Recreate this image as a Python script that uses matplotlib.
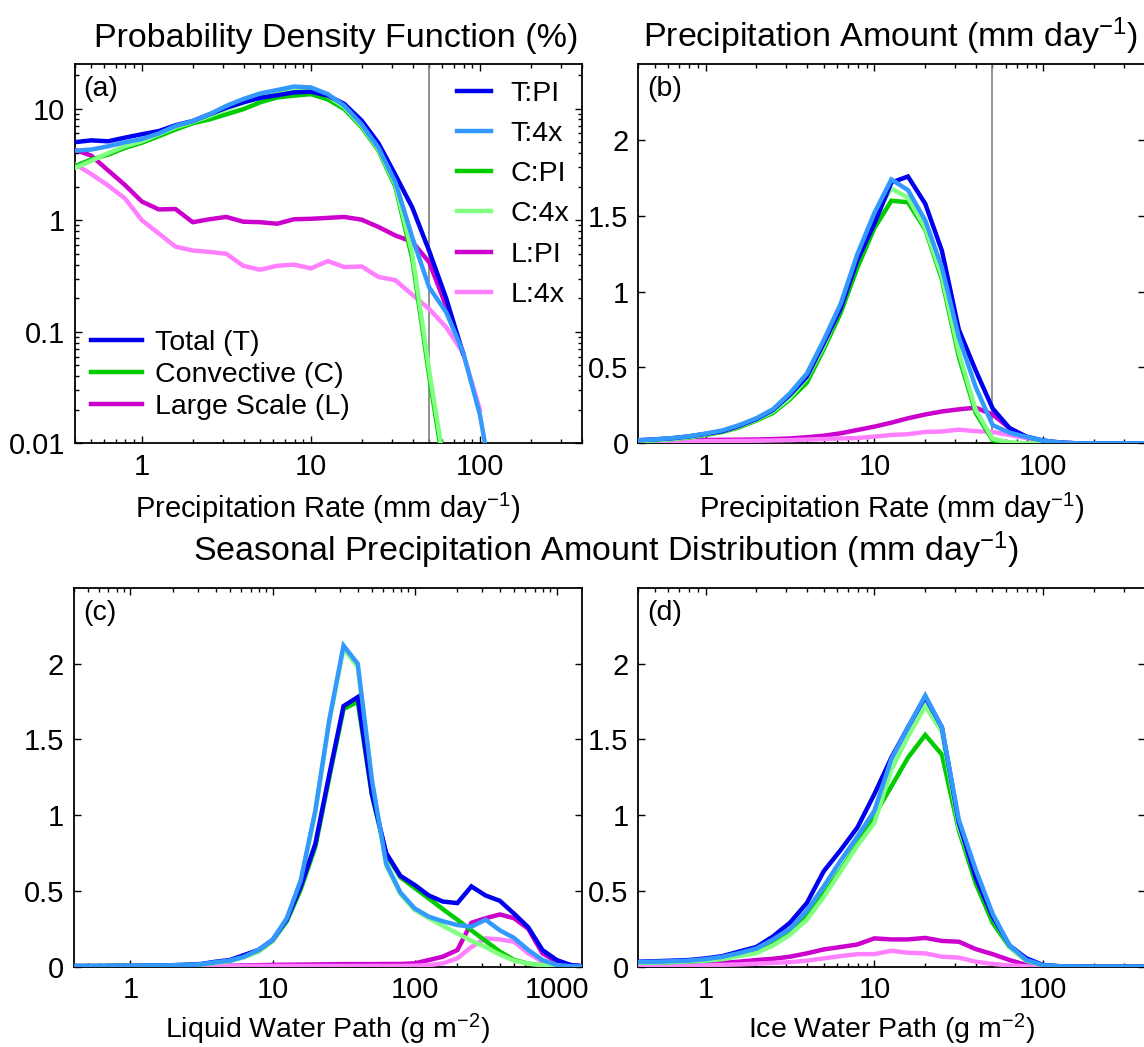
import numpy as np
import matplotlib
matplotlib.use("Agg")
import matplotlib.pyplot as plt
from matplotlib.lines import Line2D
from matplotlib.ticker import NullFormatter

plt.rcParams['font.family'] = ['Liberation Sans', 'DejaVu Sans']
plt.rcParams['mathtext.fontset'] = 'custom'
plt.rcParams['mathtext.rm'] = 'Liberation Sans'
plt.rcParams['mathtext.it'] = 'Liberation Sans:italic'
plt.rcParams['mathtext.bf'] = 'Liberation Sans:bold'

nan = np.nan

# ---------------- bin centres ----------------
rate = [0.398, 0.501, 0.631, 0.794, 1.0, 1.26, 1.58, 2.0, 2.51, 3.16, 3.98, 5.01,
        6.31, 7.94, 10.0, 12.6, 15.8, 20.0, 25.1, 31.6, 39.8, 50.1, 63.1, 79.4,
        100.0, 126.0, 158.0, 200.0, 251.0, 316.0, 398.0]
lwp = rate + [501.0, 631.0, 794.0, 1000.0, 1259.0, 1585.0]
iwp = rate

# ---------------- (a) PDF of precipitation rate (%) ----------------
pdf_T_PI = [5.0, 5.2, 5.1, 5.5, 5.9, 6.3, 7.1, 7.75, 8.9, 10.2, 11.4, 12.5, 13.2, 14.0,
            14.2, 13.1, 11.0, 7.8, 4.9, 2.55, 1.3, 0.53, 0.2, 0.064, nan, nan,
            nan, nan, nan, nan, nan]
pdf_T_4x = [4.2, 4.3, 4.6, 5.0, 5.35, 6.0, 7.0, 7.75, 8.9, 10.6, 12.2, 13.7, 14.7, 15.8,
            15.5, 13.5, 10.6, 7.2, 4.46, 2.2, 0.7, 0.25, 0.15, 0.066, 0.018, 0.0025,
            nan, nan, nan, nan, nan]
pdf_C_PI = [3.04, 3.5, 3.87, 4.45, 4.95, 5.67, 6.5, 7.4, 8.0, 8.9, 9.9, 11.4, 12.6, 13.1,
            13.5, 12.1, 9.9, 6.8, 4.2, 2.0, 0.45, 0.04, 0.0044, nan, nan, nan,
            nan, nan, nan, nan, nan]
pdf_C_4x = [2.93, 3.4, 4.0, 4.6, 5.1, 5.9, 6.8, 7.6, 8.6, 9.9, 11.3, 12.9, 14.0, 15.0,
            15.0, 13.0, 10.3, 7.0, 4.3, 2.1, 0.5, 0.045, 0.005, nan, nan, nan,
            nan, nan, nan, nan, nan]
pdf_L_PI = [4.3, 3.8, 2.8, 2.07, 1.47, 1.25, 1.26, 0.96, 1.02, 1.07, 0.97, 0.96, 0.93,
            1.02, 1.03, 1.05, 1.07, 1.01, 0.87, 0.73, 0.64, 0.42, 0.17, 0.065, nan, nan,
            nan, nan, nan, nan, nan]
pdf_L_4x = [3.2, 2.6, 2.05, 1.57, 1.0, 0.76, 0.58, 0.535, 0.52, 0.50, 0.39, 0.36, 0.39,
            0.40, 0.37, 0.43, 0.38, 0.385, 0.31, 0.29, 0.215, 0.16, 0.11, 0.065, 0.02, nan,
            nan, nan, nan, nan, nan]

# ---------------- (b) precipitation amount by rate ----------------
amt_T_PI = [0.02, 0.026, 0.033, 0.045, 0.062, 0.08, 0.115, 0.16, 0.22, 0.32, 0.44, 0.66,
            0.89, 1.21, 1.45, 1.72, 1.76, 1.58, 1.27, 0.75, 0.48, 0.23, 0.10, 0.044,
            0.018, 0.005, 0.0, 0.0, 0.0, 0.0, 0.0]
amt_T_4x = [0.02, 0.026, 0.034, 0.046, 0.064, 0.085, 0.12, 0.165, 0.225, 0.33, 0.46, 0.68,
            0.92, 1.25, 1.52, 1.74, 1.67, 1.47, 1.16, 0.70, 0.37, 0.12, 0.07, 0.042,
            0.018, 0.005, 0.0, 0.0, 0.0, 0.0, 0.0]
amt_C_PI = [0.015, 0.02, 0.028, 0.038, 0.055, 0.075, 0.105, 0.15, 0.2, 0.29, 0.40, 0.62,
            0.86, 1.16, 1.42, 1.60, 1.59, 1.41, 1.08, 0.57, 0.20, 0.02, 0.003, 0.0,
            0.0, 0.0, 0.0, 0.0, 0.0, 0.0, 0.0]
amt_C_4x = [0.015, 0.02, 0.028, 0.04, 0.058, 0.08, 0.11, 0.155, 0.21, 0.30, 0.43, 0.64,
            0.90, 1.22, 1.50, 1.68, 1.62, 1.42, 1.10, 0.60, 0.22, 0.03, 0.003, 0.0,
            0.0, 0.0, 0.0, 0.0, 0.0, 0.0, 0.0]
amt_L_PI = [0.018, 0.019, 0.02, 0.021, 0.022, 0.023, 0.024, 0.025, 0.028, 0.032, 0.04,
            0.05, 0.066, 0.088, 0.11, 0.136, 0.165, 0.19, 0.21, 0.224, 0.235, 0.19, 0.1,
            0.04, 0.012, 0.003, 0.0, 0.0, 0.0, 0.0, 0.0]
amt_L_4x = [0.013, 0.013, 0.013, 0.014, 0.015, 0.015, 0.016, 0.017, 0.019, 0.021, 0.025,
            0.028, 0.032, 0.035, 0.044, 0.055, 0.06, 0.075, 0.078, 0.09, 0.08, 0.075,
            0.055, 0.035, 0.017, 0.004, 0.0, 0.0, 0.0, 0.0, 0.0]

# ---------------- (c) seasonal amount by liquid water path ----------------
lwp_T_PI = [0.005, 0.005, 0.005, 0.006, 0.006, 0.007, 0.008, 0.01, 0.013, 0.018, 0.033,
            0.044, 0.077, 0.11, 0.176, 0.31, 0.53, 0.81, 1.27, 1.72, 1.78, 1.14, 0.75,
            0.60, 0.54, 0.47, 0.43, 0.42, 0.53, 0.47, 0.435, 0.35, 0.26, 0.11, 0.044,
            0.011, 0.002]
lwp_T_4x = [0.004, 0.004, 0.005, 0.005, 0.006, 0.007, 0.008, 0.01, 0.012, 0.017, 0.03,
            0.04, 0.066, 0.11, 0.176, 0.32, 0.57, 1.03, 1.63, 2.12, 2.0, 1.23, 0.68,
            0.49, 0.385, 0.33, 0.30, 0.275, 0.264, 0.31, 0.24, 0.19, 0.11, 0.044, 0.011,
            0.003, 0.001]
lwp_C_PI = [0.004, 0.004, 0.004, 0.005, 0.005, 0.006, 0.007, 0.008, 0.011, 0.015, 0.028,
            0.038, 0.07, 0.10, 0.17, 0.30, 0.51, 0.79, 1.25, 1.70, 1.75, 1.13, 0.74,
            0.59, 0.52, 0.45, 0.38, 0.31, 0.24, 0.17, 0.10, 0.045, 0.02, 0.01, 0.004,
            0.001, 0.0]
lwp_C_4x = [0.004, 0.004, 0.004, 0.005, 0.005, 0.006, 0.007, 0.008, 0.011, 0.015, 0.027,
            0.037, 0.062, 0.10, 0.17, 0.31, 0.56, 1.02, 1.62, 2.10, 1.98, 1.22, 0.67,
            0.48, 0.375, 0.32, 0.27, 0.22, 0.17, 0.13, 0.08, 0.04, 0.02, 0.01, 0.004,
            0.001, 0.0]
lwp_L_PI = [0.001, 0.001, 0.001, 0.001, 0.002, 0.002, 0.002, 0.003, 0.003, 0.004, 0.005,
            0.006, 0.008, 0.01, 0.012, 0.013, 0.014, 0.015, 0.016, 0.017, 0.017, 0.017,
            0.018, 0.018, 0.022, 0.044, 0.066, 0.11, 0.29, 0.32, 0.345, 0.32, 0.25, 0.088,
            0.033, 0.01, 0.002]
lwp_L_4x = [0.001, 0.001, 0.001, 0.001, 0.001, 0.001, 0.002, 0.002, 0.002, 0.003, 0.003,
            0.004, 0.004, 0.005, 0.005, 0.005, 0.005, 0.005, 0.005, 0.005, 0.005, 0.005,
            0.005, 0.005, 0.006, 0.01, 0.022, 0.055, 0.13, 0.187, 0.18, 0.165, 0.088,
            0.033, 0.01, 0.002, 0.0]

# ---------------- (d) seasonal amount by ice water path ----------------
iwp_T_PI = [0.033, 0.036, 0.04, 0.044, 0.055, 0.07, 0.1, 0.13, 0.2, 0.29, 0.42, 0.63,
            0.77, 0.92, 1.14, 1.38, 1.58, 1.78, 1.58, 0.95, 0.59, 0.33, 0.14, 0.055,
            0.011, 0.003, 0.001, 0.0, 0.0, 0.0, 0.0]
iwp_T_4x = [0.03, 0.033, 0.036, 0.04, 0.05, 0.065, 0.09, 0.12, 0.18, 0.25, 0.37, 0.53,
            0.70, 0.86, 1.03, 1.37, 1.58, 1.79, 1.58, 0.97, 0.64, 0.35, 0.14, 0.044,
            0.01, 0.003, 0.001, 0.0, 0.0, 0.0, 0.0]
iwp_C_PI = [0.025, 0.028, 0.03, 0.035, 0.04, 0.055, 0.075, 0.1, 0.15, 0.22, 0.33, 0.48,
            0.64, 0.81, 1.0, 1.19, 1.38, 1.53, 1.40, 0.90, 0.55, 0.29, 0.13, 0.04,
            0.01, 0.002, 0.0, 0.0, 0.0, 0.0, 0.0]
iwp_C_4x = [0.025, 0.028, 0.03, 0.035, 0.04, 0.05, 0.07, 0.09, 0.14, 0.21, 0.31, 0.46,
            0.63, 0.80, 0.95, 1.30, 1.52, 1.72, 1.55, 0.92, 0.60, 0.33, 0.13, 0.04,
            0.01, 0.002, 0.0, 0.0, 0.0, 0.0, 0.0]
iwp_L_PI = [0.01, 0.012, 0.014, 0.017, 0.02, 0.025, 0.033, 0.044, 0.052, 0.066, 0.088,
            0.114, 0.13, 0.147, 0.187, 0.18, 0.18, 0.19, 0.17, 0.165, 0.116, 0.083,
            0.044, 0.011, 0.002, 0.0, 0.0, 0.0, 0.0, 0.0, 0.0]
iwp_L_4x = [0.005, 0.006, 0.007, 0.008, 0.01, 0.012, 0.015, 0.02, 0.025, 0.03, 0.04,
            0.055, 0.07, 0.083, 0.083, 0.105, 0.092, 0.088, 0.066, 0.06, 0.033, 0.018,
            0.008, 0.002, 0.0, 0.0, 0.0, 0.0, 0.0, 0.0, 0.0]

series_names = ['T:PI', 'T:4x', 'C:PI', 'C:4x', 'L:PI', 'L:4x']
colors = {'T:PI': '#0000EE', 'T:4x': '#3399FF', 'C:PI': '#00CC00',
          'C:4x': '#80FF80', 'L:PI': '#CC00CC', 'L:4x': '#FF80FF'}
draw_order = ['L:PI', 'L:4x', 'C:PI', 'C:4x', 'T:PI', 'T:4x']
threshold = 50.0

W, H = 1144, 1047
fig = plt.figure(figsize=(W / 100, H / 100), dpi=100)

def px_axes(left, top, right, bottom):
    return fig.add_axes([left / W, (H - bottom) / H, (right - left) / W, (bottom - top) / H])

ax_a = px_axes(74.6, 64.3, 581.7, 443.3)
ax_b = px_axes(638.3, 64.3, 1145.0, 443.3)
ax_c = px_axes(73.9, 588.0, 581.7, 966.7)
ax_d = px_axes(638.3, 588.0, 1145.0, 966.7)

LW = 3.2
FS = 20.5
TICK_FS = 21

panels = [
    (ax_a, rate, {'T:PI': pdf_T_PI, 'T:4x': pdf_T_4x, 'C:PI': pdf_C_PI,
                  'C:4x': pdf_C_4x, 'L:PI': pdf_L_PI, 'L:4x': pdf_L_4x}),
    (ax_b, rate, {'T:PI': amt_T_PI, 'T:4x': amt_T_4x, 'C:PI': amt_C_PI,
                  'C:4x': amt_C_4x, 'L:PI': amt_L_PI, 'L:4x': amt_L_4x}),
    (ax_c, lwp, {'T:PI': lwp_T_PI, 'T:4x': lwp_T_4x, 'C:PI': lwp_C_PI,
                 'C:4x': lwp_C_4x, 'L:PI': lwp_L_PI, 'L:4x': lwp_L_4x}),
    (ax_d, iwp, {'T:PI': iwp_T_PI, 'T:4x': iwp_T_4x, 'C:PI': iwp_C_PI,
                 'C:4x': iwp_C_4x, 'L:PI': iwp_L_PI, 'L:4x': iwp_L_4x}),
]

for ax, xs, data in panels:
    ax.set_xscale('log')
    for name in draw_order:
        ax.plot(xs, data[name], color=colors[name], lw=LW, solid_joinstyle='miter',
                clip_on=True, zorder=3)
    for sp in ax.spines.values():
        sp.set_linewidth(1.3)
    ax.tick_params(which='both', direction='in', top=True, right=True,
                   labelsize=TICK_FS, width=1.0)
    ax.tick_params(which='major', length=5, pad=7)
    ax.tick_params(which='minor', length=3)
    ax.xaxis.set_minor_formatter(NullFormatter())

# (a) log-log PDF
ax_a.set_yscale('log')
ax_a.set_xlim(0.4, 400)
ax_a.set_ylim(0.01, 25)
ax_a.set_yticks([0.01, 0.1, 1, 10])
ax_a.set_yticklabels(['0.01', '0.1', '1', '10'])
ax_a.yaxis.set_minor_formatter(NullFormatter())
ax_a.axvline(threshold, color='#808080', lw=1.2, zorder=2)

lin_ticks = [0, 0.5, 1, 1.5, 2]
lin_labels = ['0', '0.5', '1', '1.5', '2']
for ax in (ax_b, ax_c, ax_d):
    ax.set_ylim(0, 2.5)
    ax.set_yticks(lin_ticks)
    ax.set_yticklabels(lin_labels)

ax_b.set_xlim(0.4, 400)
ax_b.axvline(threshold, color='#808080', lw=1.2, zorder=2)
ax_c.set_xlim(0.4, 1500)
ax_d.set_xlim(0.4, 400)

for ax in (ax_a, ax_b, ax_d):
    ax.set_xticks([1, 10, 100])
    ax.set_xticklabels(['1', '10', '100'])
ax_c.set_xticks([1, 10, 100, 1000])
ax_c.set_xticklabels(['1', '10', '100', '1000'])

rate_label = 'Precipitation Rate (mm day$^{-1}$)'
ax_a.set_xlabel(rate_label, fontsize=21, labelpad=7)
ax_b.set_xlabel(rate_label, fontsize=21, labelpad=7)
ax_c.set_xlabel('Liquid Water Path (g m$^{-2}$)', fontsize=20.5, labelpad=5)
ax_d.set_xlabel('Ice Water Path (g m$^{-2}$)', fontsize=20.5, labelpad=5)

for ax, letter in zip((ax_a, ax_b, ax_c, ax_d), ('(a)', '(b)', '(c)', '(d)')):
    ax.text(0.018, 0.968, letter, transform=ax.transAxes, fontsize=FS,
            ha='left', va='top', zorder=5)

# titles
TFS = 24.5
fig.text(336 / W, (H - 47) / H, 'Probability Density Function (%)', fontsize=TFS,
         ha='center', va='baseline')
fig.text(890 / W, (H - 47) / H, 'Precipitation Amount (mm day$^{-1}$)', fontsize=TFS,
         ha='center', va='baseline')
fig.text(606 / W, (H - 561) / H,
         'Seasonal Precipitation Amount Distribution (mm day$^{-1}$)', fontsize=TFS,
         ha='center', va='baseline')

# legends in panel (a)
run_handles = [Line2D([], [], color=colors[n], lw=LW) for n in series_names]
leg1 = ax_a.legend(run_handles, series_names, loc='upper left',
                   bbox_to_anchor=(0.754, 0.957), frameon=False, fontsize=FS,
                   handlelength=1.2, handletextpad=0.68, labelspacing=0.5,
                   borderpad=0, borderaxespad=0)
ax_a.add_artist(leg1)
type_handles = [Line2D([], [], color=colors[n], lw=LW) for n in ('T:PI', 'C:PI', 'L:PI')]
ax_a.legend(type_handles, ['Total (T)', 'Convective (C)', 'Large Scale (L)'],
            loc='lower left', bbox_to_anchor=(0.032, 0.062), frameon=False,
            fontsize=FS, handlelength=1.8, handletextpad=0.46, labelspacing=0.2,
            borderpad=0, borderaxespad=0)

fig.savefig('out.png', dpi=100)
